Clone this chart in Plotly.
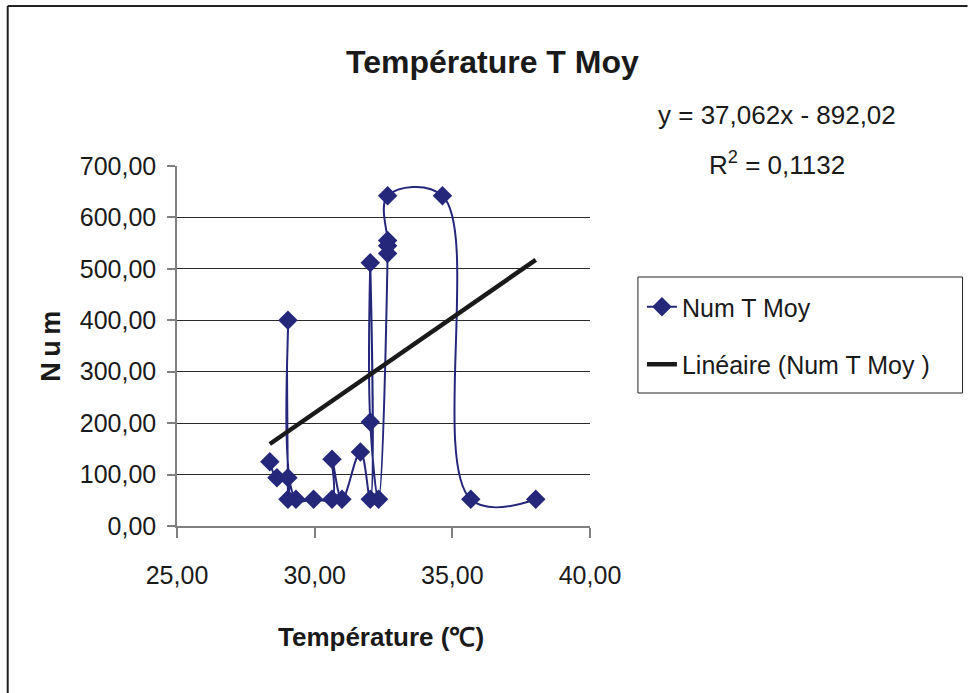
import plotly.graph_objects as go

# ---- data ----
temperature = [28.37, 28.63, 29.03, 29.03, 29.03, 29.32, 29.96, 30.63, 30.63, 30.99,
               31.66, 32.02, 32.02, 32.02, 32.32, 32.65, 32.65, 32.65, 32.65, 34.64,
               35.67, 38.03]
num = [125, 94, 94, 52, 400, 52, 52, 52, 130, 52,
       144, 52, 512, 202, 52, 530, 545, 555, 642, 642,
       52, 52]
slope = 37.062
intercept = -892.02
r2_text = "0,1132"
series_name = "Num T Moy"
trend_name = "Linéaire (Num T Moy )"
y_ticks = [0, 100, 200, 300, 400, 500, 600, 700]
y_tick_labels = ["0,00", "100,00", "200,00", "300,00", "400,00", "500,00", "600,00", "700,00"]
x_ticks = [25, 30, 35, 40]
x_tick_labels = ["25,00", "30,00", "35,00", "40,00"]

trend_x = [min(temperature), max(temperature)]
trend_y = [slope * v + intercept for v in trend_x]

W, H = 968, 693
L, R, T, B = 176.5, 590, 166, 526
FONT = "Liberation Sans Narrow, Arial Narrow, Liberation Sans, Arial, sans-serif"
NAVY = "#25287a"
INK = "#1a1a1a"

def px(xp):
    return (xp - L) / (R - L)

def py(yp):
    return (B - yp) / (B - T)

fig = go.Figure()
fig.add_trace(go.Scatter(
    x=temperature, y=num, name=series_name, mode="lines+markers",
    line=dict(color=NAVY, width=2, shape="spline", smoothing=1.1),
    marker=dict(symbol="diamond", size=15, color=NAVY),
    legendgroup="a",
))
fig.add_trace(go.Scatter(
    x=trend_x, y=trend_y, name=trend_name, mode="lines",
    line=dict(color=INK, width=4.5),
    legendgroup="b",
))

fig.update_layout(
    width=W, height=H,
    margin=dict(l=L, r=W - R, t=T, b=H - B, autoexpand=False),
    paper_bgcolor="white", plot_bgcolor="white",
    font=dict(family=FONT, size=25, color=INK),
    showlegend=True,
    legend=dict(
        x=px(642), y=py(284), xanchor="left", yanchor="top",
        borderwidth=0, bgcolor="rgba(0,0,0,0)",
        font=dict(family=FONT, size=25, color=INK),
        tracegroupgap=22, traceorder="grouped",
    ),
    xaxis=dict(
        range=[25, 40], tickvals=x_ticks, ticktext=x_tick_labels,
        showgrid=False, zeroline=False,
        showline=True, linecolor="#808080", linewidth=1.5,
        ticks="outside", ticklen=10, tickcolor="#808080", tickwidth=1.5,
        ticklabelstandoff=16,
        tickfont=dict(family=FONT, size=25, color=INK),
    ),
    yaxis=dict(
        range=[0, 700], tickvals=y_ticks, ticktext=y_tick_labels,
        showgrid=True, gridcolor="#2a2a2a", gridwidth=1, zeroline=False,
        showline=True, linecolor="#808080", linewidth=1.5,
        ticks="outside", ticklen=8, tickcolor="#808080", tickwidth=1.5,
        ticklabelstandoff=6,
        tickfont=dict(family=FONT, size=25, color=INK),
    ),
    shapes=[
        dict(type="line", xref="paper", yref="paper",
             x0=px(7), x1=px(968), y0=py(6), y1=py(6),
             line=dict(color="#222", width=2)),
        dict(type="line", xref="paper", yref="paper",
             x0=px(7), x1=px(7), y0=py(6), y1=py(693),
             line=dict(color="#222", width=2)),
        dict(type="rect", xref="paper", yref="paper",
             x0=px(638), x1=px(963), y0=py(277), y1=py(393),
             line=dict(color="#222", width=1)),
    ],
    annotations=[
        dict(text="<b>Température T Moy</b>", xref="paper", yref="paper",
             x=px(492), y=py(62), xanchor="center", yanchor="middle",
             showarrow=False, font=dict(family=FONT, size=32, color=INK)),
        dict(text="y = 37,062x - 892,02", xref="paper", yref="paper",
             x=px(777), y=py(115), xanchor="center", yanchor="middle",
             showarrow=False, font=dict(family=FONT, size=26, color=INK)),
        dict(text="R<sup>2</sup> = " + r2_text, xref="paper", yref="paper",
             x=px(777), y=py(163), xanchor="center", yanchor="middle",
             showarrow=False, font=dict(family=FONT, size=26, color=INK)),
        dict(text="<b>N\u2009u\u2009m</b>", xref="paper", yref="paper",
             x=px(50), y=py(346), xanchor="center", yanchor="middle",
             textangle=-90, showarrow=False,
             font=dict(family=FONT, size=27, color=INK)),
        dict(text="<b>Température (℃)</b>", xref="paper", yref="paper",
             x=px(381), y=py(637), xanchor="center", yanchor="middle",
             showarrow=False, font=dict(family=FONT, size=26, color=INK)),
    ],
)

fig.write_html("out.html")
